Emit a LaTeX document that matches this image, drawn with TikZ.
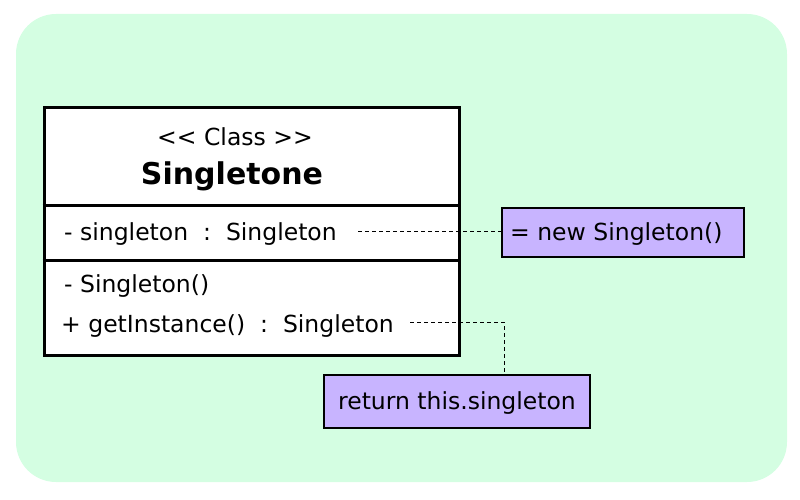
\documentclass[tikz,border=0pt]{standalone}
\usepackage{fontspec}
\setmainfont{DejaVu Sans}
\definecolor{bg}{RGB}{212,254,226}
\definecolor{note}{RGB}{200,180,255}
\begin{document}
\begin{tikzpicture}[x=1pt,y=-1pt,
  txt/.style={inner sep=0pt,font=\fontsize{23.5}{27}\selectfont},
  notebox/.style={draw=black,line width=1.2pt,fill=note},
  conn/.style={line width=0.8pt,dash pattern=on 4pt off 3pt}]
\useasboundingbox (0,0) rectangle (800,500);
\fill[bg,rounded corners=40pt] (16,14) rectangle (787,482);
% class box
\node[draw=black,line width=3pt,fill=white,minimum width=415pt,minimum height=247pt,inner sep=0pt] (cls) at (251.5,231.5) {};
\draw[line width=3pt] (cls.west |- 0,205) coordinate (d1a) -- (cls.east |- 0,205) coordinate (d1b);
\draw[line width=3pt] (cls.west |- 0,260) coordinate (d2a) -- (cls.east |- 0,260) coordinate (d2b);
\node[txt] (stereo) at (235,137) {<\kern0pt< Class >\kern0pt>};
\node[txt,font=\bfseries\fontsize{30}{34}\selectfont] (name) at (232,176) {Singletone};
\node[txt,anchor=west] (attr) at (64,234) {- singleton\ \ :\ \ Singleton};
\node[txt,anchor=west] (ctor) at (64,286) {- Singleton()};
\node[txt,anchor=west] (meth) at (61,326) {+ getInstance()\ \ :\ \ Singleton};
% notes
\node[notebox,minimum width=242pt,minimum height=49pt,inner sep=0pt] (n1) at (623,232.5) {};
\node[txt,anchor=west] (n1t) at (510,234) {= new Singleton()};
\node[notebox,minimum width=266pt,minimum height=53pt,inner sep=0pt] (n2) at (457,401.5) {};
\node[txt] (n2t) at (457,403) {return this.singleton};
% connectors
\coordinate (a1) at (358,231);
\coordinate (a2) at (410,322);
\draw[conn] (a1) -- (a1 -| n1.west);
\draw[conn] (a2) -- (504,322) -- (504,375 |- n2.north);
\end{tikzpicture}
\end{document}
